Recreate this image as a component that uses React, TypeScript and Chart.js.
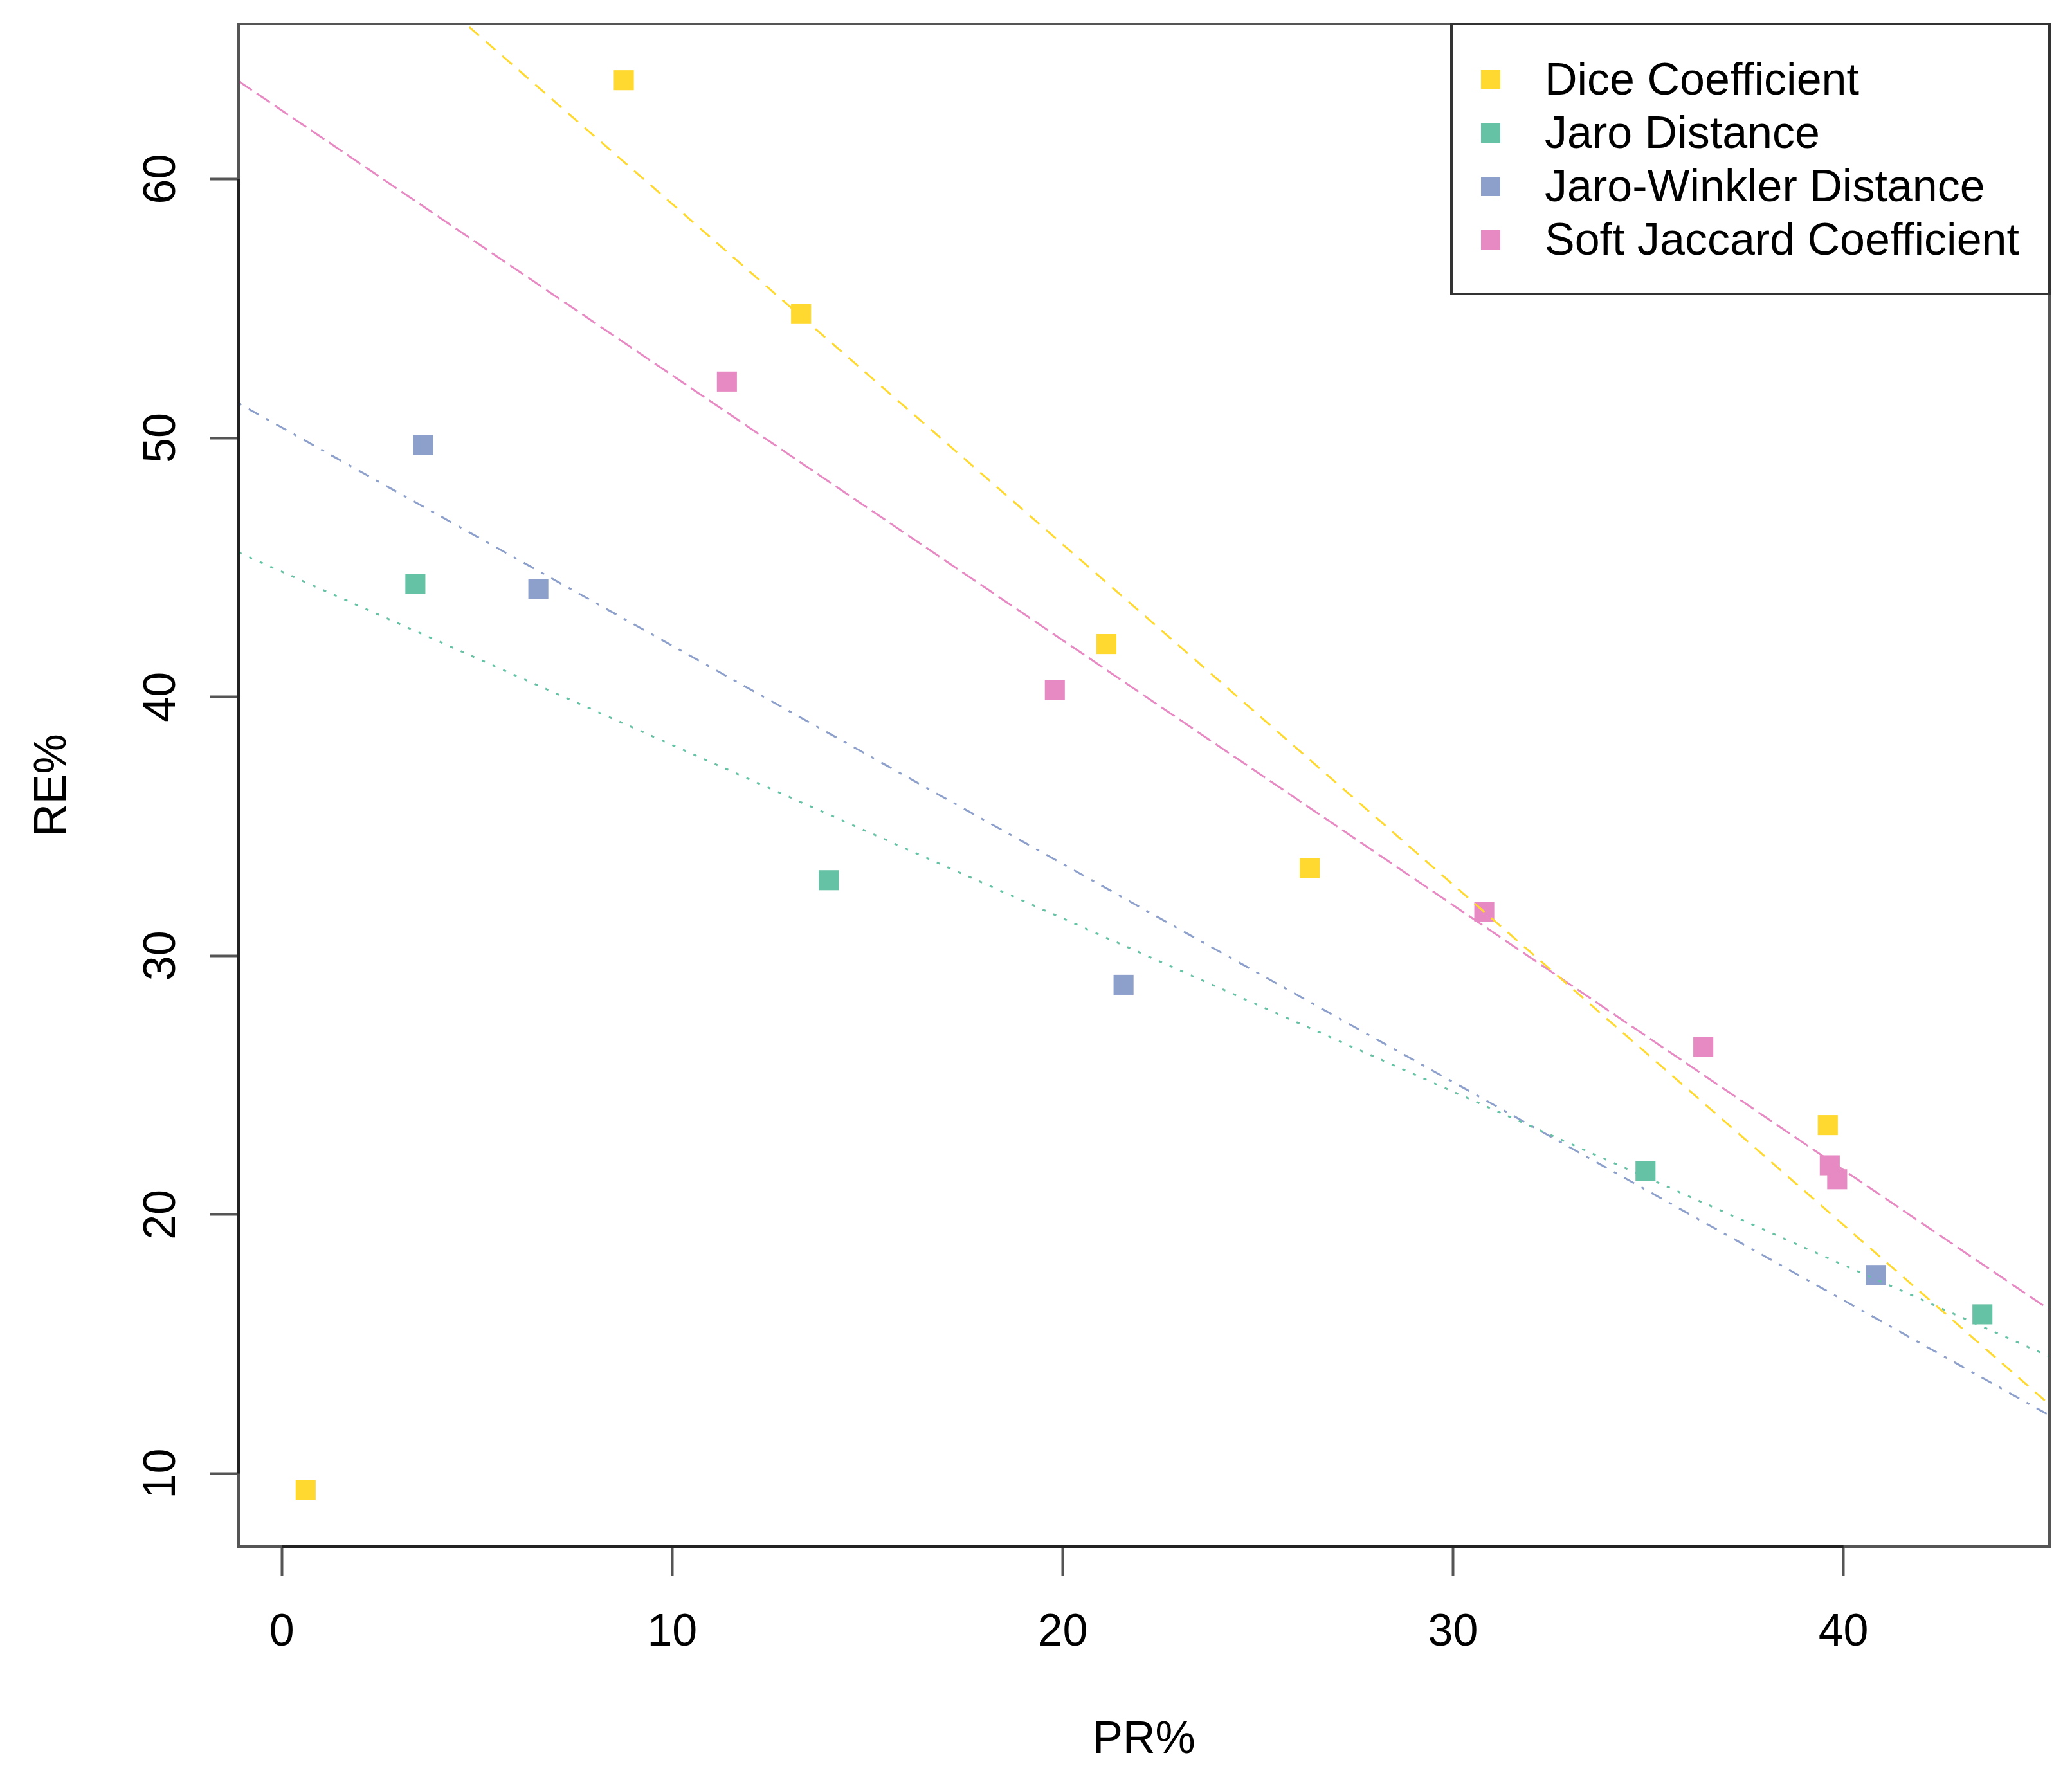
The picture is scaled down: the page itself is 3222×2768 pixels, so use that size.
import React, { useEffect, useRef } from "react";
import { Chart, registerables, Plugin } from "chart.js";

Chart.register(...registerables);

const FONT = '"Liberation Sans", Arial, Helvetica, sans-serif';

const seriesNames = [
  "Dice Coefficient",
  "Jaro Distance",
  "Jaro-Winkler Distance",
  "Soft Jaccard Coefficient",
];
const seriesColors = ["#FFD92F", "#66C2A5", "#8DA0CB", "#E78AC3"];
const seriesDash = [
  [20, 14],
  [5, 13],
  [5, 13, 18, 13],
  [25, 9],
];

// PR% (x) and RE% (y) per measure
const dicePR = [8.76, 13.3, 21.12, 26.33, 39.6, 0.61];
const diceRE = [63.82, 54.79, 42.04, 33.38, 23.46, 9.36];
const jaroPR = [3.42, 14.01, 34.93, 43.56];
const jaroRE = [44.36, 32.92, 21.7, 16.15];
const jwPR = [3.62, 6.57, 21.56, 40.83];
const jwRE = [49.73, 44.17, 28.88, 17.67];
const sjPR = [11.4, 19.8, 30.8, 36.41, 39.65, 39.84];
const sjRE = [52.18, 40.27, 31.69, 26.48, 21.91, 21.37];

// how many leading points feed each trend line (Dice leaves out its last point)
const fitCounts = [5, 4, 4, 6];

const xTicks = [0, 10, 20, 30, 40];
const yTicks = [10, 20, 30, 40, 50, 60];

const prSeries = [dicePR, jaroPR, jwPR, sjPR];
const reSeries = [diceRE, jaroRE, jwRE, sjRE];

// least squares line y = a + b x
function lineFit(xs: number[], ys: number[]) {
  const n = xs.length;
  const mx = xs.reduce((s, v) => s + v, 0) / n;
  const my = ys.reduce((s, v) => s + v, 0) / n;
  let sxy = 0;
  let sxx = 0;
  for (let i = 0; i < n; i++) {
    sxy += (xs[i] - mx) * (ys[i] - my);
    sxx += (xs[i] - mx) * (xs[i] - mx);
  }
  const b = sxy / sxx;
  return { a: my - b * mx, b };
}

// R style axis range: data range widened by 4% each side
function rRange(values: number[]) {
  const lo = Math.min(...values);
  const hi = Math.max(...values);
  const pad = (hi - lo) * 0.04;
  return { min: lo - pad, max: hi + pad };
}

const xRange = rRange(prSeries.flat());
const yRange = rRange(reSeries.flat());

const rLook: Plugin<"scatter"> = {
  id: "rLook",
  afterDraw(chart) {
    const { ctx, chartArea: a, scales } = chart;
    const xs = scales.x;
    const ys = scales.y;
    ctx.save();

    ctx.strokeStyle = "#555";
    ctx.lineWidth = 4;
    ctx.strokeRect(a.left, a.top, a.right - a.left, a.bottom - a.top);

    // axis lines from first to last tick, as R draws them
    ctx.strokeStyle = "#222";
    ctx.beginPath();
    ctx.moveTo(xs.getPixelForValue(xTicks[0]), a.bottom);
    ctx.lineTo(xs.getPixelForValue(xTicks[xTicks.length - 1]), a.bottom);
    ctx.moveTo(a.left, ys.getPixelForValue(yTicks[0]));
    ctx.lineTo(a.left, ys.getPixelForValue(yTicks[yTicks.length - 1]));
    ctx.stroke();

    ctx.fillStyle = "#000";
    ctx.font = `70px ${FONT}`;
    ctx.textAlign = "center";
    ctx.textBaseline = "alphabetic";

    xTicks.forEach((v) => {
      ctx.fillText(String(v), xs.getPixelForValue(v), a.bottom + 154);
    });
    yTicks.forEach((v) => {
      ctx.save();
      ctx.translate(a.left - 99, ys.getPixelForValue(v));
      ctx.rotate(-Math.PI / 2);
      ctx.fillText(String(v), 0, 0);
      ctx.restore();
    });

    ctx.fillText("PR%", (a.left + a.right) / 2, a.bottom + 321);
    ctx.save();
    ctx.translate(a.left - 269, (a.top + a.bottom) / 2);
    ctx.rotate(-Math.PI / 2);
    ctx.fillText("RE%", 0, 0);
    ctx.restore();

    // legend
    const lx = a.right - 930;
    ctx.fillStyle = "#fff";
    ctx.fillRect(lx, a.top, a.right - lx, 420);
    ctx.strokeStyle = "#333";
    ctx.strokeRect(lx, a.top, a.right - lx, 420);
    ctx.textAlign = "left";
    seriesNames.forEach((name, i) => {
      const cy = a.top + 87 + 83 * i;
      ctx.fillStyle = seriesColors[i];
      ctx.fillRect(a.right - 884, cy - 15, 30, 30);
      ctx.fillStyle = "#000";
      ctx.fillText(name, a.right - 785, a.top + 110 + 83 * i);
    });

    ctx.restore();
  },
};

const App: React.FC = () => {
  const chartRef = useRef<Chart<"scatter">>();
  const canvasRef = useRef<HTMLCanvasElement>(null);

  useEffect(() => {
    document.body.style.margin = "0";
    const canvas = canvasRef.current;
    if (!canvas) {
      return;
    }
    const ctx = canvas.getContext("2d");
    if (!ctx) {
      return;
    }

    const pointSets = seriesNames.map((name, i) => ({
      label: name,
      data: prSeries[i].map((x, j) => ({ x, y: reSeries[i][j] })),
      showLine: false,
      pointStyle: "rect" as const,
      pointRadius: 22,
      pointHoverRadius: 22,
      borderWidth: 0,
      backgroundColor: seriesColors[i],
      borderColor: seriesColors[i],
      order: 2,
    }));

    const lineSets = seriesNames.map((name, i) => {
      const n = fitCounts[i];
      const { a, b } = lineFit(prSeries[i].slice(0, n), reSeries[i].slice(0, n));
      return {
        label: name + " fit",
        data: [xRange.min, xRange.max].map((x) => ({ x, y: a + b * x })),
        showLine: true,
        pointRadius: 0,
        borderWidth: 3,
        borderDash: seriesDash[i],
        borderColor: seriesColors[i],
        backgroundColor: seriesColors[i],
        order: 1,
      };
    });

    chartRef.current = new Chart(ctx, {
      type: "scatter",
      data: { datasets: [...pointSets, ...lineSets] },
      options: {
        responsive: false,
        animation: false,
        devicePixelRatio: 1,
        layout: { padding: { top: 37, right: 35, left: 0, bottom: 0 } },
        plugins: {
          legend: { display: false },
          tooltip: { enabled: false },
        },
        scales: {
          x: {
            type: "linear",
            min: xRange.min,
            max: xRange.max,
            afterBuildTicks: (s) => {
              s.ticks = xTicks.map((value) => ({ value }));
            },
            afterFit: (s) => {
              s.height = 363;
            },
            ticks: { display: false },
            border: { display: false },
            grid: {
              drawOnChartArea: false,
              drawTicks: true,
              tickLength: 45,
              tickWidth: 4,
              tickColor: "#555",
            },
          },
          y: {
            type: "linear",
            min: yRange.min,
            max: yRange.max,
            afterBuildTicks: (s) => {
              s.ticks = yTicks.map((value) => ({ value }));
            },
            afterFit: (s) => {
              s.width = 371;
            },
            ticks: { display: false },
            border: { display: false },
            grid: {
              drawOnChartArea: false,
              drawTicks: true,
              tickLength: 45,
              tickWidth: 4,
              tickColor: "#555",
            },
          },
        },
      },
      plugins: [rLook],
    });

    return () => {
      if (chartRef.current) {
        chartRef.current.destroy();
      }
    };
  }, []);

  return (
    <canvas
      ref={canvasRef}
      width={3222}
      height={2768}
      style={{ display: "block" }}
      aria-label="chart"
    />
  );
};

export default App;
